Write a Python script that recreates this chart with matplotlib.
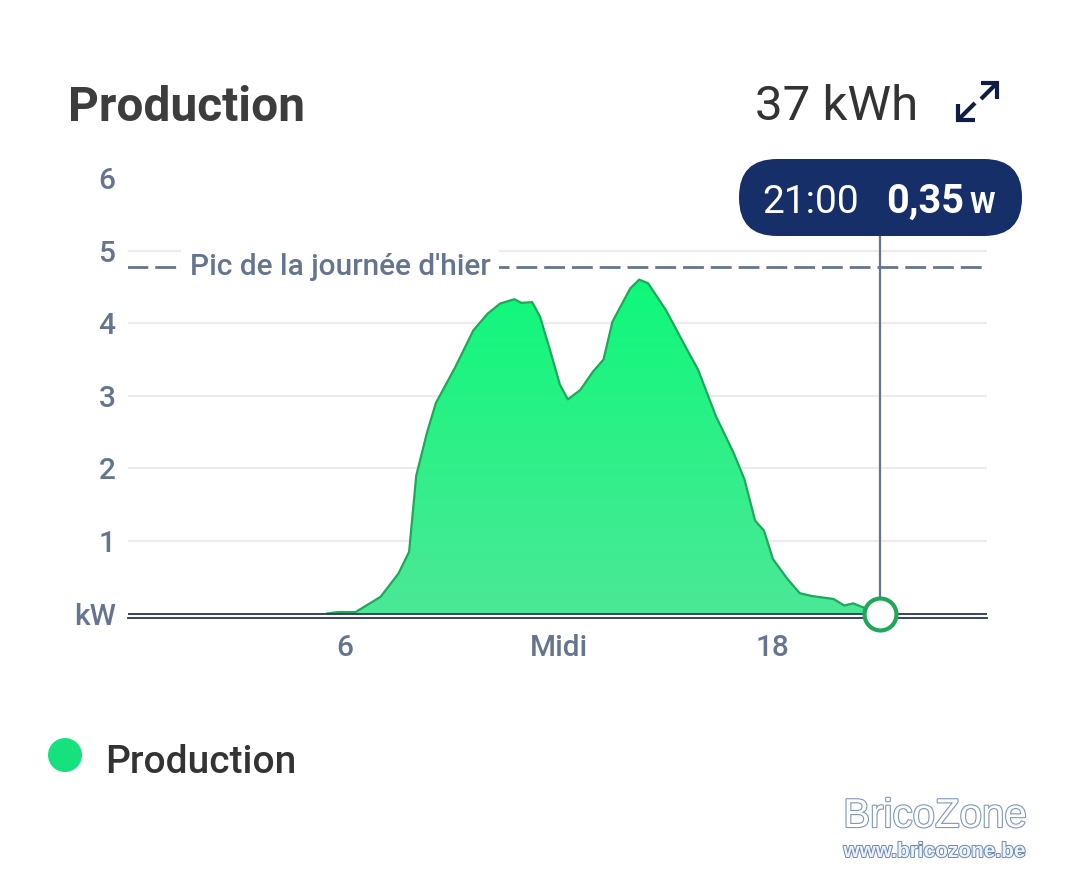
import numpy as np
import matplotlib
matplotlib.use("Agg")
import matplotlib.pyplot as plt
from matplotlib.colors import LinearSegmentedColormap
from matplotlib.patches import FancyBboxPatch, Circle
import matplotlib.patheffects as pe

plt.rcParams['font.family'] = ['Roboto', 'DejaVu Sans']
plt.rcParams['lines.scale_dashes'] = False

# données (heure, kW)
heures = [5.5, 5.8, 6.3, 7.0, 7.5, 7.8, 8.0, 8.3, 8.55, 9.1, 9.6, 10.0, 10.35, 10.75,
          10.95, 11.25, 11.47, 11.75, 12.03, 12.25, 12.6, 12.95, 13.25, 13.5, 14.0,
          14.25, 14.5, 15.0, 15.5, 15.9, 16.4, 16.9, 17.2, 17.5, 17.75, 18.0, 18.4,
          18.75, 19.1, 19.7, 20.0, 20.25, 20.5, 21.0]
production_kw = [0.0, 0.02, 0.02, 0.23, 0.55, 0.85, 1.9, 2.49, 2.9, 3.4, 3.9, 4.13, 4.27, 4.33,
                 4.28, 4.29, 4.09, 3.63, 3.15, 2.95, 3.08, 3.33, 3.5, 4.02, 4.48,
                 4.6, 4.55, 4.18, 3.72, 3.36, 2.72, 2.21, 1.85, 1.28, 1.14, 0.75, 0.48,
                 0.28, 0.24, 0.20, 0.11, 0.14, 0.09, 0.0]
pic_hier = 4.78
x_ticks = [6, 12, 18]
x_labels = ["6", "Midi", "18"]
y_ticks = [0, 1, 2, 3, 4, 5, 6]
y_labels = ["kW", "1", "2", "3", "4", "5", "6"]
total = "37 kWh"
curseur_heure = 21
curseur_texte = "21:00"
curseur_valeur = "0,35"
curseur_unite = "W"

ardoise = '#66758f'
marine = '#172f68'
vert_trait = '#1fa85a'

W, H = 1080, 893
fig = plt.figure(figsize=(W / 100, H / 100), dpi=100)
ax = fig.add_axes([128 / W, (H - 617.5) / H, (987 - 128) / W, (617.5 - 178) / H])

# grille
for yv in y_ticks[1:-1]:
    ax.plot([-0.1, 24], [yv, yv], color='#ececec', lw=1.6, zorder=0)

# remplissage en dégradé
poly = ax.fill_between(heures, 0, production_kw, facecolor='none', edgecolor='none')
cmap = LinearSegmentedColormap.from_list('prod', ['#4be897', '#2ef088', '#0ef87a'])
grad = np.linspace(0, 1, 256).reshape(-1, 1)
im = ax.imshow(grad, extent=[heures[0], heures[-1], 0, max(production_kw)], origin='lower',
               aspect='auto', cmap=cmap, zorder=2)
im.set_clip_path(poly.get_paths()[0], transform=ax.transData)
ax.plot(heures, production_kw, color=vert_trait, lw=1.6, zorder=3, solid_joinstyle='round')

# ligne de zéro + axe
ax.plot([-0.1, 24], [0, 0], color='#27355a', lw=1.3, zorder=4)

# pic d'hier
ax.plot([-0.1, 24], [pic_hier, pic_hier], color=ardoise, lw=2.0, dashes=(15, 5), zorder=1)
ax.text(1.65, pic_hier, "Pic de la journée d'hier", color=ardoise, fontsize=21.5,
        fontweight='medium', va='center', ha='left', zorder=5,
        bbox=dict(facecolor='white', edgecolor='none', pad=6))

# curseur
ax.plot([curseur_heure, curseur_heure], [0, 6], color=ardoise, lw=1.6, zorder=5, clip_on=False)
ax.plot([curseur_heure], [0], marker='o', markersize=23, markerfacecolor='white',
        markeredgecolor=vert_trait, markeredgewidth=3, zorder=6, clip_on=False)

ax.set_xlim(-0.08, 24)
ax.set_ylim(-0.055, 6)
ax.set_xticks(x_ticks)
ax.set_xticklabels(x_labels, fontweight='medium')
ax.set_yticks(y_ticks)
ax.set_yticklabels(y_labels, fontweight='medium')
ax.tick_params(axis='both', length=0, labelsize=21.5, labelcolor=ardoise)
ax.tick_params(axis='x', pad=12)
ax.tick_params(axis='y', pad=9)
for s in ['top', 'right', 'left']:
    ax.spines[s].set_visible(False)
ax.spines['bottom'].set_color('#27355a')
ax.spines['bottom'].set_linewidth(1.3)

# calque en pixels pour les éléments d'interface
ov = fig.add_axes([0, 0, 1, 1], zorder=10)
ov.set_xlim(0, W)
ov.set_ylim(H, 0)
ov.axis('off')
ov.patch.set_alpha(0)

ov.text(68, 121, "Production", fontsize=34.5, fontweight='bold', color='#3d3d3d', ha='left', va='baseline')
ov.text(918, 120, total, fontsize=35.5, color='#333333', ha='right', va='baseline')

# icône agrandir
ic = dict(color='#0f1c45', lw=3, solid_capstyle='butt', solid_joinstyle='miter')
ov.plot([958, 958, 975], [104, 120, 120], **ic)
ov.plot([959, 975], [119, 103], **ic)
ov.plot([981, 997, 997], [83, 83, 99], **ic)
ov.plot([996, 981], [84, 99], **ic)

# infobulle
ov.add_patch(FancyBboxPatch((739, 159), 283, 77, boxstyle="round,pad=0,rounding_size=38",
                            facecolor=marine, edgecolor='none'))
ov.text(762, 213, curseur_texte, fontsize=28, color='white', ha='left', va='baseline')
ov.text(886, 213, curseur_valeur, fontsize=28.5, fontweight='bold', color='white', ha='left', va='baseline')
ov.text(969, 213, curseur_unite, fontsize=21, fontweight='bold', color='white', ha='left', va='baseline')

# légende
ov.add_patch(Circle((65, 755), 17, facecolor='#16e27d', edgecolor='none'))
ov.text(105, 773, "Production", fontsize=28, fontweight='medium', color='#333333', ha='left', va='baseline')

# filigrane
ov.text(935, 827, "BricoZone", fontsize=29, family='Liberation Sans', color='white', ha='center',
        va='baseline', path_effects=[pe.Stroke(linewidth=1.6, foreground='#7d97ba'), pe.Normal()])
ov.text(935, 857, "www.bricozone.be", fontsize=15, fontweight='bold', family='Liberation Sans',
        color='#eef2f8', ha='center', va='baseline',
        path_effects=[pe.Stroke(linewidth=1.4, foreground='#6a88b0'), pe.Normal()])

fig.savefig("out.png", dpi=100)
